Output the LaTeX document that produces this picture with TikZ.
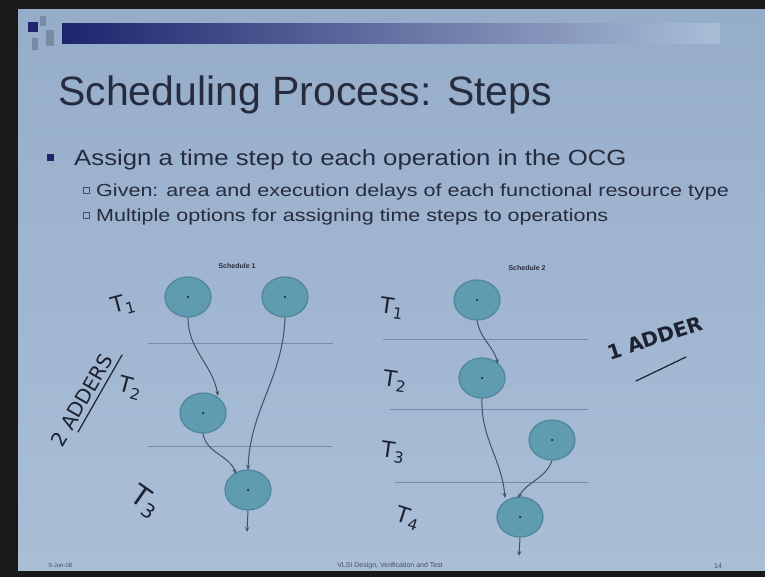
\documentclass[tikz,border=0pt]{standalone}
\usepackage{fontspec}
\setmainfont{Liberation Sans}
\newfontfamily\hand{DejaVu Sans}
\usetikzlibrary{shapes.geometric,arrows.meta}
\definecolor{slide}{RGB}{150,173,202}
\definecolor{slidelight}{RGB}{170,190,214}
\definecolor{ink}{RGB}{38,44,62}
\definecolor{grayink}{RGB}{70,80,100}
\definecolor{opfill}{RGB}{96,156,176}
\definecolor{opline}{RGB}{80,132,156}
\definecolor{navy}{RGB}{30,36,110}
\definecolor{pen}{RGB}{30,34,48}
\definecolor{rule}{RGB}{120,140,165}
\tikzset{
  op/.style={ellipse, draw=opline, line width=1.2pt, fill=opfill, minimum width=46pt, minimum height=40pt, inner sep=0pt},
  edge/.style={draw=grayink, line width=1pt, -{Stealth[length=5pt,width=4pt]}},
  stepline/.style={draw=rule, line width=0.8pt},
  handtxt/.style={text=pen, inner sep=0pt, font=\hand\fontsize{22}{24}\selectfont},
  sched/.style={text=ink, font=\fontsize{7}{8}\selectfont\bfseries},
  dotc/.style={circle, fill=ink, inner sep=0pt, minimum size=2.5pt}
}
\begin{document}
\begin{tikzpicture}[x=1pt,y=-1pt]
\useasboundingbox (0,0) rectangle (765,577);
% frame and slide
\fill[black!90] (0,0) rectangle (765,577);
\shade[left color=slide, right color=slidelight, shading angle=0] (18,10) rectangle (765,570);
% top bar
\shade[left color=navy, right color=slidelight] (62,24) rectangle (720,44);
\fill[navy] (28,22) rectangle (38,32);
\fill[rule] (40,16) rectangle (46,26);
\fill[rule] (46,30) rectangle (54,46);
\fill[rule] (32,38) rectangle (38,50);
% title
\node[anchor=base west, text=ink, font=\fontsize{41}{44}\selectfont, inner sep=0pt] (title) at (58,106) {Scheduling Process: Steps};
% bullets
\node[fill=navy, minimum size=7pt, inner sep=0pt] (b1) at (50,158) {};
\node[anchor=base west, text=ink, font=\fontsize{22}{24}\selectfont, inner sep=0pt, xscale=1.17] (t1) at (74,166) {Assign a time step to each operation in the OCG};
\node[draw=grayink, minimum size=6pt, inner sep=0pt, line width=0.5pt] (b2) at (86,190) {};
\node[anchor=base west, text=ink, font=\fontsize{17.5}{18}\selectfont, inner sep=0pt, xscale=1.23] (t2) at (96,197) {Given: area and execution delays of each functional resource type};
\node[draw=grayink, minimum size=6pt, inner sep=0pt, line width=0.5pt] (b3) at (86,215) {};
\node[anchor=base west, text=ink, font=\fontsize{17.5}{18}\selectfont, inner sep=0pt, xscale=1.23] (t3) at (96,222) {Multiple options for assigning time steps to operations};
% Schedule 1
\node[sched] (s1) at (237,266) {Schedule 1};
\draw[stepline] (148,343) coordinate (l1a) -- (333,343) coordinate (l1b);
\draw[stepline] (148,446) coordinate (l2a) -- (332,446) coordinate (l2b);
\node[op] (a1) at (188,297) {}; \node[dotc] at (a1) {};
\node[op] (a2) at (285,297) {}; \node[dotc] at (a2) {};
\node[op] (a3) at (203,413) {}; \node[dotc] at (a3) {};
\node[op] (a4) at (248,490) {}; \node[dotc] at (a4) {};
\coordinate (a4out) at (247,532);
\draw[edge] (a1.south) to[out=-90,in=100] (218,396);
\draw[edge] (a2.south) to[out=-92,in=88] (248,470);
\draw[edge] (a3.south) to[out=-80,in=110] (236,474);
\draw[edge] (a4.south) -- (a4out);
% Schedule 2
\node[sched] (s2) at (527,268) {Schedule 2};
\draw[stepline] (383,339) coordinate (m1a) -- (588,339) coordinate (m1b);
\draw[stepline] (390,409) coordinate (m2a) -- (588,409) coordinate (m2b);
\draw[stepline] (395,482) coordinate (m3a) -- (588,482) coordinate (m3b);
\node[op] (c1) at (477,300) {}; \node[dotc] at (c1) {};
\node[op] (c2) at (482,378) {}; \node[dotc] at (c2) {};
\node[op] (c3) at (552,440) {}; \node[dotc] at (c3) {};
\node[op] (c4) at (520,517) {}; \node[dotc] at (c4) {};
\coordinate (c4out) at (519,556);
\draw[edge] (c1.south) to[out=-80,in=105] (498,364);
\draw[edge] (c2.south) to[out=-92,in=95] (505,498);
\draw[edge] (c3.south) to[out=-110,in=60] (518,498);
\draw[edge] (c4.south) -- (c4out);
% handwriting
\node[handtxt, rotate=15] (h1) at (123,305) {T\textsubscript{1}};
\node[handtxt, rotate=-15] (h2) at (130,388) {T\textsubscript{2}};
\node[handtxt, rotate=60, font=\hand\fontsize{20}{22}\selectfont] (h3) at (82,400) {2 ADDERS};
\draw[pen, line width=1.2pt, line cap=round] (78,432) coordinate (u1a) -- (122,355) coordinate (u1b);
\node[handtxt, rotate=-35, font=\hand\fontsize{28}{30}\selectfont] (h4) at (145,502) {T\textsubscript{3}};
\node[handtxt, rotate=-8] (g1) at (392,308) {T\textsubscript{1}};
\node[handtxt, rotate=-8] (g2) at (395,381) {T\textsubscript{2}};
\node[handtxt, rotate=-8] (g3) at (393,452) {T\textsubscript{3}};
\node[handtxt, rotate=-18] (g4) at (408,518) {T\textsubscript{4}};
\node[handtxt, rotate=18, font=\hand\bfseries\fontsize{20}{22}\selectfont] (g5) at (655,338) {1 ADDER};
\draw[pen, line width=1.2pt, line cap=round] (636,381) coordinate (u2a) -- (686,357) coordinate (u2b);
% footer
\node[text=grayink, font=\fontsize{6}{7}\selectfont, anchor=west] (f1) at (45,565) {9-Jun-08};
\node[text=grayink, font=\fontsize{7}{8}\selectfont] (f2) at (390,566) {VLSI Design, Verification and Test};
\node[text=grayink, font=\fontsize{7}{8}\selectfont] (f3) at (718,566) {14};
\end{tikzpicture}
\end{document}
